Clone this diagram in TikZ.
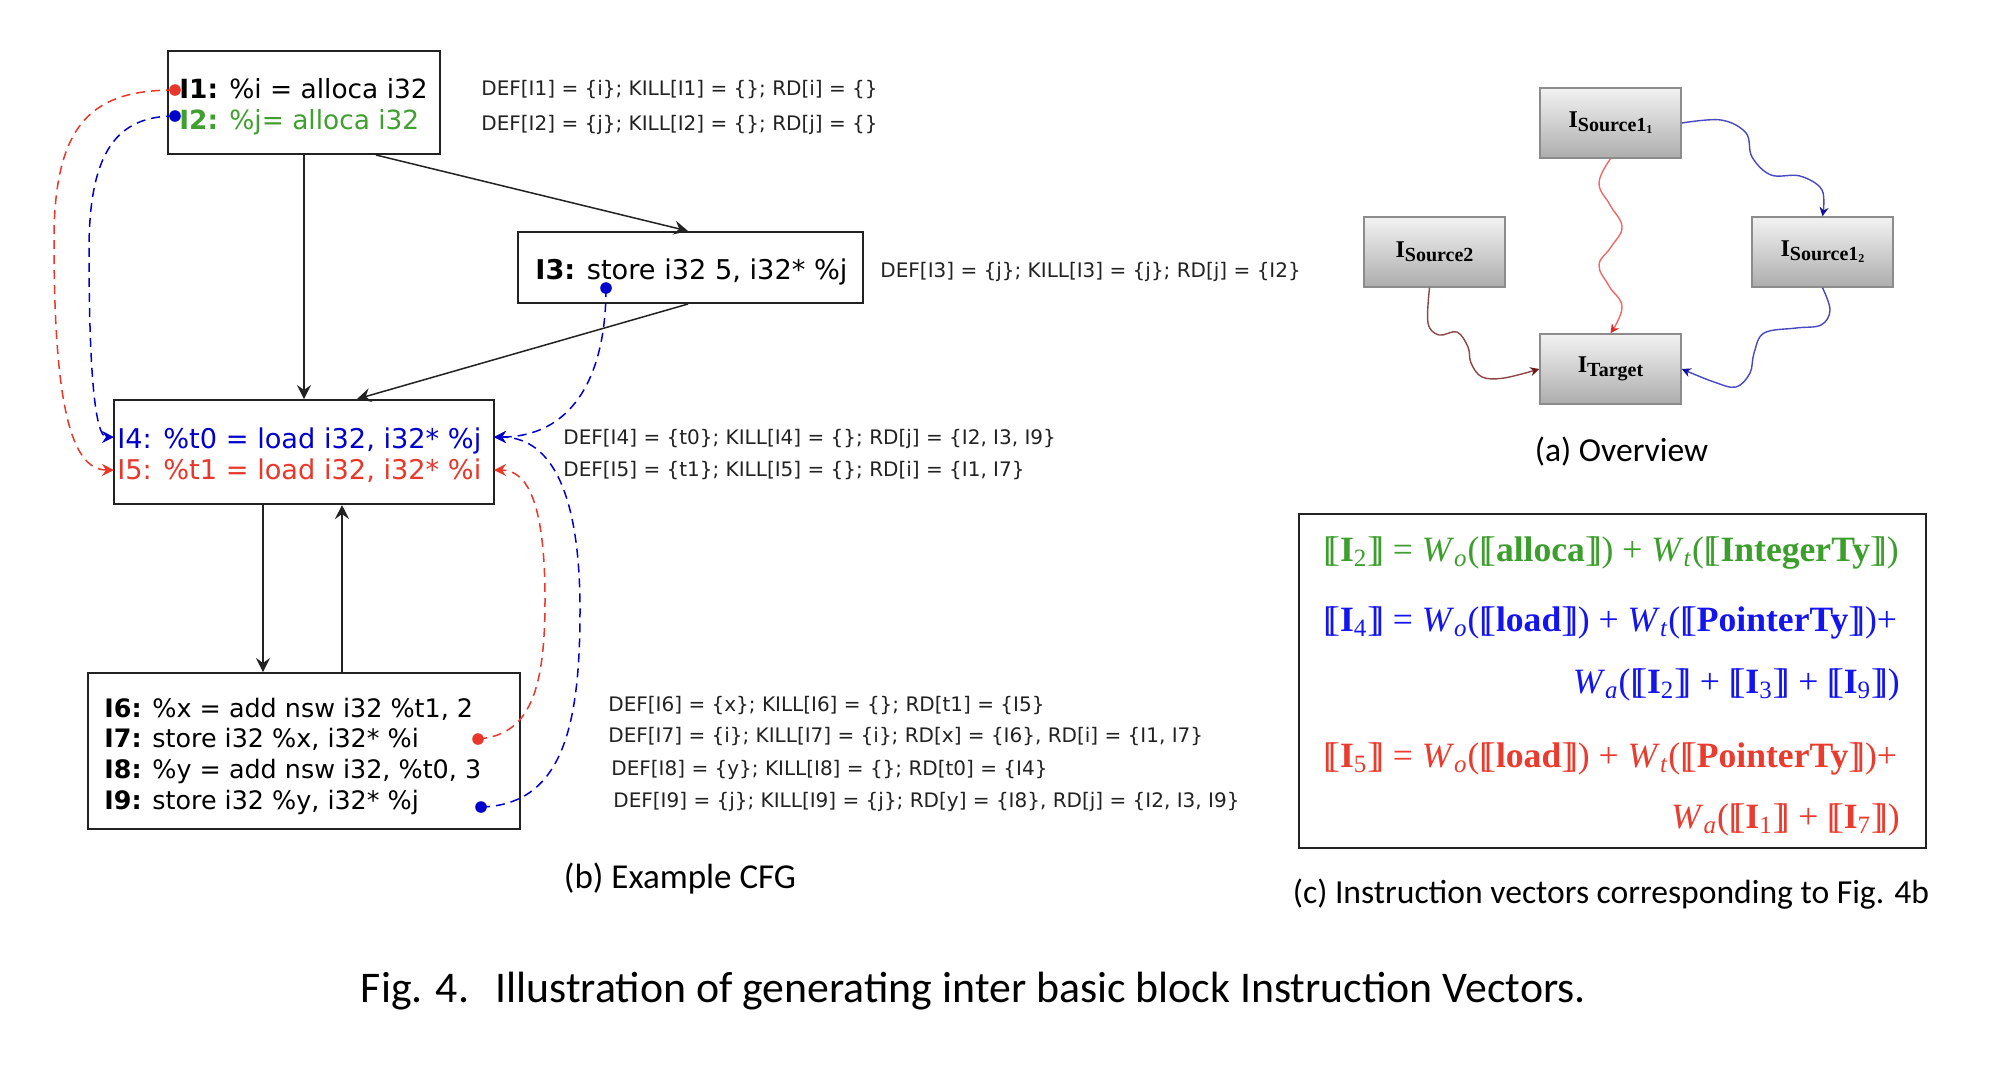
\documentclass[tikz,border=0pt]{standalone}
\usepackage{fontspec}
\setmainfont{Liberation Serif}
\newfontfamily\codef{DejaVu Sans}
\newfontfamily\capf{Carlito}
\newfontfamily\eqf{Liberation Serif}
\usetikzlibrary{arrows.meta}

\definecolor{cred}{HTML}{E9372B}
\definecolor{cblue}{HTML}{0000CD}
\definecolor{cgreen}{HTML}{3F9F2F}
\definecolor{eblue}{HTML}{1414F0}
\definecolor{ered}{HTML}{EA3B2E}
\definecolor{egreen}{HTML}{3C9E2C}
\definecolor{ovblue}{HTML}{4848C0}
\definecolor{ovblued}{HTML}{10109A}
\definecolor{ovred}{HTML}{F06868}
\definecolor{ovredd}{HTML}{E02828}
\definecolor{ovbrown}{HTML}{8E4646}
\definecolor{ovbrownd}{HTML}{701818}
\definecolor{ink}{HTML}{222222}

\newcommand{\lbr}{[\kern-0.2em[}
\newcommand{\rbr}{]\kern-0.2em]}
\newcommand{\Wsub}[1]{\textit{W}\textsubscript{\textit{#1}}}
\newcommand{\Isub}[1]{\textbf{I}\textsubscript{#1}}
\newcommand{\ovlab}[1]{{\bfseries\fontsize{12pt}{12pt}\selectfont I\raisebox{-2pt}{\fontsize{10pt}{10pt}\selectfont #1}}}
\newcommand{\ovsub}[1]{\raisebox{-1pt}{\fontsize{6pt}{6pt}\selectfont #1}}

\tikzset{
  cfgbox/.style={draw=ink, line width=1pt, inner sep=0pt},
  flow/.style={draw=ink, line width=0.75pt, -{Stealth[length=7pt,width=7pt,inset=2.5pt]}},
  dep/.style={dash pattern=on 4.5pt off 3pt, line width=0.75pt, -{Stealth[length=6pt,width=6pt,inset=2pt]}},
  dotn/.style={circle, fill=#1, inner sep=0pt, minimum size=5.8pt},
  codeA/.style={anchor=base west, inner sep=0pt, font=\codef\fontsize{13.2pt}{15pt}\selectfont},
  codeB/.style={anchor=base west, inner sep=0pt, font=\codef\fontsize{13.6pt}{15pt}\selectfont},
  codeC/.style={anchor=base west, inner sep=0pt, font=\codef\fontsize{13.6pt}{15pt}\selectfont},
  codeD/.style={anchor=base west, inner sep=0pt, font=\codef\fontsize{12.7pt}{14pt}\selectfont},
  deft/.style={anchor=base west, inner sep=0pt, text=ink, font=\codef\fontsize{10pt}{12pt}\selectfont},
  ovbox/.style={draw=black!45, line width=0.75pt, top color=black!5, bottom color=black!32,
                minimum width=70.5pt, minimum height=35pt, inner sep=0pt},
  ovedge/.style={line width=0.7pt},
  eqn/.style={inner sep=0pt, font=\eqf\fontsize{17.8pt}{19pt}\selectfont},
  capn/.style={anchor=base, inner sep=0pt, font=\capf\fontsize{16.8pt}{18pt}\selectfont},
}

\begin{document}
\begin{tikzpicture}[x=0.5pt, y=-0.5pt]
\fill[white] (0,0) rectangle (2006,1084);
\useasboundingbox (0,0) rectangle (2006,1084);

% ---------------- CFG boxes ----------------
\node[cfgbox, minimum width=136pt, minimum height=51.5pt] (B1) at (304,102.5) {};
\node[cfgbox, minimum width=172.5pt, minimum height=35.5pt] (B3) at (690.5,267.5) {};
\node[cfgbox, minimum width=190pt, minimum height=52pt] (B4) at (304,452) {};
\node[cfgbox, minimum width=216pt, minimum height=78pt] (B6) at (304,751) {};

% code text
\node[codeA] (t1) at (179,98) {\textbf{I1:} \%i = alloca i32};
\node[codeA, text=cgreen] (t2) at (179,129) {\textbf{I2:} \%j= alloca i32};
\node[codeB] (t3) at (535,279) {\textbf{I3:} store i32 5, i32* \%j};
\node[codeC, text=cblue] (t4) at (117,448) {I4: \%t0 = load i32, i32* \%j};
\node[codeC, text=cred] (t5) at (117,479) {I5: \%t1 = load i32, i32* \%i};
\node[codeD] (t6) at (104,717) {\textbf{I6:} \%x = add nsw i32 \%t1, 2};
\node[codeD] (t7) at (104,747) {\textbf{I7:} store i32 \%x, i32* \%i};
\node[codeD] (t8) at (104,778) {\textbf{I8:} \%y = add nsw i32, \%t0, 3};
\node[codeD] (t9) at (104,809) {\textbf{I9:} store i32 \%y, i32* \%j};

% DEF / KILL / RD annotations
\node[deft] (r1) at (481,95) {DEF[I1] = \{i\}; KILL[I1] = \{\}; RD[i] = \{\}};
\node[deft] (r2) at (481,130) {DEF[I2] = \{j\}; KILL[I2] = \{\}; RD[j] = \{\}};
\node[deft] (r3) at (880,277) {DEF[I3] = \{j\}; KILL[I3] = \{j\}; RD[j] = \{I2\}};
\node[deft] (r4) at (563,444) {DEF[I4] = \{t0\}; KILL[I4] = \{\}; RD[j] = \{I2, I3, I9\}};
\node[deft] (r5) at (563,476) {DEF[I5] = \{t1\}; KILL[I5] = \{\}; RD[i] = \{I1, I7\}};
\node[deft] (r6) at (608,711) {DEF[I6] = \{x\}; KILL[I6] = \{\}; RD[t1] = \{I5\}};
\node[deft] (r7) at (608,742) {DEF[I7] = \{i\}; KILL[I7] = \{i\}; RD[x] = \{I6\}, RD[i] = \{I1, I7\}};
\node[deft] (r8) at (611,775) {DEF[I8] = \{y\}; KILL[I8] = \{\}; RD[t0] = \{I4\}};
\node[deft] (r9) at (613,807) {DEF[I9] = \{j\}; KILL[I9] = \{j\}; RD[y] = \{I8\}, RD[j] = \{I2, I3, I9\}};

% control flow edges
\draw[flow] (B1.south) -- (B4.north);
\draw[flow] ([xshift=36pt]B1.south) -- ([xshift=-1.25pt]B3.north);
\draw[flow] ([xshift=-1.25pt]B3.south) -- ([xshift=26.5pt]B4.north);
\draw[flow] ([xshift=-20.5pt]B4.south) -- ([xshift=-20.5pt]B6.north);
\draw[flow] ([xshift=19pt]B6.north) -- ([xshift=19pt]B4.south);

% def-use dots and anchors
\node[dotn=cred] (d1) at (175,90) {};
\node[dotn=cblue] (d2) at (175,116) {};
\node[dotn=cblue] (d3) at (606,288) {};
\node[dotn=cred] (d7) at (478,739) {};
\node[dotn=cblue] (d9) at (481,807) {};
\coordinate (i4L) at (114,437);
\coordinate (i5L) at (114,470);
\coordinate (i4R) at (494,437);
\coordinate (i5R) at (494,470);

\draw[dep, cred] (d1.center) .. controls (95,90) and (54,120) .. (54,240) .. controls (54,400) and (70,470) .. (i5L);
\draw[dep, cblue] (d2.center) .. controls (118,116) and (89,150) .. (89,250) .. controls (89,390) and (97,437) .. (i4L);
\draw[dep, cblue] (d3.center) .. controls (606,380) and (570,437) .. (i4R);
\draw[dep, cblue] (d9.center) .. controls (565,805) and (580,720) .. (580,610) .. controls (580,480) and (545,437) .. (i4R);
\draw[dep, cred] (d7.center) .. controls (530,735) and (545,690) .. (545,600) .. controls (545,510) and (530,470) .. (i5R);

% ---------------- Overview ----------------
\node[ovbox] (S11) at (1610.5,123) {\ovlab{Source1\ovsub{1}}};
\node[ovbox] (S2) at (1434.5,252) {\ovlab{Source2}};
\node[ovbox] (S12) at (1822.5,252) {\ovlab{Source1\ovsub{2}}};
\node[ovbox] (T) at (1610.5,369) {\ovlab{Target}};
\coordinate (s2o) at ([xshift=-2.5pt]S2.south);

\draw[ovedge, ovblue, -{Stealth[length=4.5pt,width=4.5pt,color=ovblued]}]
  plot[smooth, tension=0.6] coordinates {(S11.east) (1721,120) (1746,133) (1752,157) (1771,175) (1800,176) (1822,190) (S12.north)};
\draw[ovedge, ovred, -{Stealth[length=4.5pt,width=4.5pt,color=ovredd]}]
  plot[smooth, tension=0.7] coordinates {(S11.south) (1599,183) (1610,205) (1622,227) (1611,247) (1599,265) (1609,286) (1622,307) (T.north)};
\draw[ovedge, ovbrown, -{Stealth[length=4.5pt,width=4.5pt,color=ovbrownd]}]
  plot[smooth, tension=0.6] coordinates {(s2o) (1428,323) (1439,335) (1457,332) (1468,347) (1471,363) (1482,377) (1504,378) (T.west)};
\draw[ovedge, ovblue, -{Stealth[length=4.5pt,width=4.5pt,color=ovblued]}]
  plot[smooth, tension=0.6] coordinates {(S12.south) (1830,310) (1821,325) (1796,328) (1764,333) (1754,353) (1750,373) (1736,387) (1714,382) (T.east)};

% ---------------- Instruction vectors ----------------
\node[draw=ink, line width=1pt, minimum width=313.5pt, minimum height=167pt, inner sep=0pt] (E) at (1612.5,681) {};
\node[eqn, anchor=base west, text=egreen] (e1) at (1323,561)
  {\lbr\Isub{2}\rbr{} = \Wsub{o}(\lbr\textbf{alloca}\rbr) + \Wsub{t}(\lbr\textbf{IntegerTy}\rbr)};
\node[eqn, anchor=base west, text=eblue] (e2) at (1323,631)
  {\lbr\Isub{4}\rbr{} = \Wsub{o}(\lbr\textbf{load}\rbr) + \Wsub{t}(\lbr\textbf{PointerTy}\rbr)+};
\node[eqn, anchor=base east, text=eblue] (e3) at (1900,693)
  {\Wsub{a}(\lbr\Isub{2}\rbr{} + \lbr\Isub{3}\rbr{} + \lbr\Isub{9}\rbr)};
\node[eqn, anchor=base west, text=ered] (e4) at (1323,767)
  {\lbr\Isub{5}\rbr{} = \Wsub{o}(\lbr\textbf{load}\rbr) + \Wsub{t}(\lbr\textbf{PointerTy}\rbr)+};
\node[eqn, anchor=base east, text=ered] (e5) at (1900,828)
  {\Wsub{a}(\lbr\Isub{1}\rbr{} + \lbr\Isub{7}\rbr)};

% ---------------- Captions ----------------
\node[capn] (capa) at (1621.5,461) {(a) Overview};
\node[capn, font=\capf\fontsize{17.5pt}{18pt}\selectfont] (capb) at (680,888) {(b) Example CFG};
\node[capn] (capc) at (1611,903) {(c) Instruction vectors corresponding to Fig. 4b};
\node[capn, font=\capf\fontsize{21.9pt}{23pt}\selectfont] (capfig) at (973.5,1002)
  {Fig. 4.\hspace{0.6em}Illustration of generating inter basic block Instruction Vectors.};
\end{tikzpicture}
\end{document}
